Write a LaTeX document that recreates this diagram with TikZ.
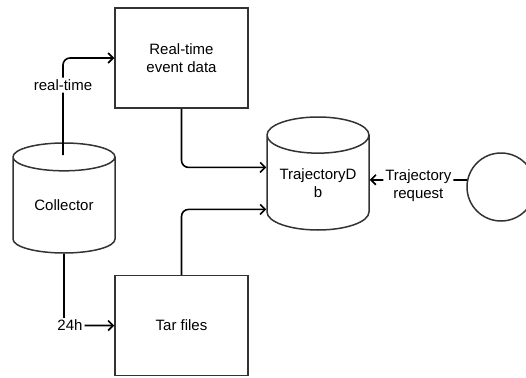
\documentclass[tikz,border=0pt]{standalone}
\usepackage{fontspec}
\setmainfont{Liberation Sans}
\usetikzlibrary{shapes.geometric,arrows.meta}
\colorlet{edgx}{black!80}
\tikzset{
    boxi/.style={draw=edgx,line width=1.5pt,minimum width=133pt,minimum height=100pt,align=center,inner sep=0pt},
    cyli/.style={draw=edgx,line width=1.5pt,cylinder,shape border rotate=90,aspect=0.47,minimum width=102pt,minimum height=110pt,align=center,inner sep=0pt},
    flow/.style={line width=1.6pt,-{Straight Barb[length=5pt,width=10pt]},rounded corners=7pt},
    lbl/.style={fill=white,inner sep=2pt,align=center}
}

\begin{document}
\begin{tikzpicture}[x=1pt,y=-1pt,font=\fontsize{15}{18}\selectfont]
        \useasboundingbox (0,0) rectangle (526,377);
        \clip (0,0) rectangle (526,377);
        \node [boxi] (rt) at (181.5,58) {Real-time\\event data};
        \node [boxi] (tar) at (181.5,325.5) {Tar files};
        \node [cyli,anchor=shape center] (coll) at (64,198) {Collector};
        \node [cyli,anchor=shape center,minimum height=113pt] (db) at (318,173.5) {TrajectoryD\\b};
        \node [draw=edgx,line width=1.5pt,circle,minimum size=68pt] (circ) at (501,187) {};
        \coordinate (ctop) at (63,155);
        \draw [flow] (ctop) |- (rt.west) node [lbl,pos=0.36] {real-time};
        \draw [flow] (coll.south) |- (tar.west) node [lbl,pos=0.5,xshift=6pt] {24h};
        \draw [flow] (rt.south) |- ([yshift=15.5pt]db.west);
        \draw [flow] (tar.north) |- ([yshift=-26.5pt]db.west);
        \draw [flow] (circ.168) -- (circ.168 -| db.east)
            node [lbl,pos=0.5,yshift=-6pt] {Trajectory\\request};
    \end{tikzpicture}
\end{document}
